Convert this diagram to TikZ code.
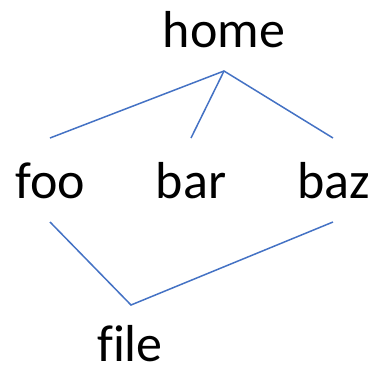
\documentclass[tikz,border=0pt]{standalone}
\usepackage{fontspec}
\setmainfont[Ligatures=NoCommon]{Carlito}
\definecolor{edgeblue}{HTML}{4472C4}
\tikzset{
  label/.style={anchor=base, inner sep=0pt, font=\fontsize{52}{60}\selectfont},
  edge/.style={draw=edgeblue, line width=1.5pt},
}
\begin{document}
\begin{tikzpicture}[x=1pt, y=-1pt]
  \useasboundingbox (0,0) rectangle (370,365);
  % labels
  \node[label] (home) at (224,47) {home};
  \node[label] (foo)  at (50,198) {foo};
  \node[label] (bar)  at (191,198) {bar};
  \node[label] (baz)  at (334,198) {baz};
  \node[label] (file) at (130,361) {file};
  % branch points and free ends
  \coordinate (homejoin) at (224,71);
  \coordinate (footop) at (50,138);
  \coordinate (bartop) at (191,138);
  \coordinate (baztop) at (333,138);
  \coordinate (foobot) at (50,222);
  \coordinate (bazbot) at (333,222);
  \coordinate (filejoin) at (131,305);
  % edges
  \draw[edge] (footop) -- (homejoin) -- (baztop);
  \draw[edge] (homejoin) -- (bartop);
  \draw[edge] (foobot) -- (filejoin) -- (bazbot);
\end{tikzpicture}
\end{document}
